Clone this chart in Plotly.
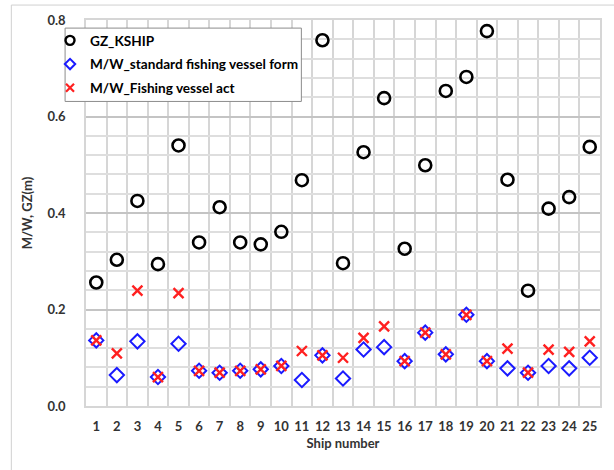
import plotly.graph_objects as go

# Ship numbers and measured values
ships = list(range(1, 26))
gz_kship = [0.256, 0.303, 0.425, 0.294, 0.540, 0.339, 0.412, 0.339, 0.335, 0.361,
            0.468, 0.758, 0.296, 0.526, 0.638, 0.326, 0.499, 0.653, 0.682, 0.777,
            0.469, 0.239, 0.409, 0.433, 0.537]
mw_standard = [0.136, 0.064, 0.134, 0.060, 0.129, 0.073, 0.069, 0.073, 0.076, 0.083,
               0.054, 0.105, 0.057, 0.117, 0.122, 0.093, 0.152, 0.107, 0.189, 0.093,
               0.078, 0.069, 0.083, 0.078, 0.100]
mw_act = [0.136, 0.109, 0.239, 0.060, 0.234, 0.073, 0.069, 0.073, 0.076, 0.083,
          0.114, 0.105, 0.100, 0.141, 0.165, 0.093, 0.152, 0.107, 0.189, 0.093,
          0.119, 0.069, 0.117, 0.112, 0.134]

y_ticks = [0.0, 0.2, 0.4, 0.6, 0.8]
y_tick_labels = ["0.0", "0.2", "0.4", "0.6", "0.8"]

FONT = "Lato"
TXT = "#333333"
BLUE = "#1a1aff"
RED = "#ff2020"

series = [
    ("GZ_KSHIP", gz_kship,
     dict(symbol="circle-open", size=12, color="black", line=dict(width=2.6, color="black")),
     dict(symbol="circle-open", size=9, color="black", line=dict(width=2.4, color="black"))),
    ("M/W_standard fishing vessel form", mw_standard,
     dict(symbol="diamond-open", size=11, color=BLUE, line=dict(width=2, color=BLUE)),
     dict(symbol="diamond-open", size=8, color=BLUE, line=dict(width=2, color=BLUE))),
    ("M/W_Fishing vessel act", mw_act,
     dict(symbol="x-thin-open", size=10, color=RED, line=dict(width=2.4, color=RED)),
     dict(symbol="x-thin-open", size=8, color=RED, line=dict(width=2.2, color=RED))),
]

fig = go.Figure()
# data markers
for name, vals, mk, _ in series:
    fig.add_trace(go.Scatter(x=ships, y=vals, mode="markers", name=name,
                             marker=mk, showlegend=False, legendgroup=name))
# legend entries with smaller symbols
for name, vals, _, mk_small in series:
    fig.add_trace(go.Scatter(x=[None], y=[None], mode="markers", name=name,
                             marker=mk_small, showlegend=True, legendgroup=name))

fig.update_layout(
    width=614, height=470,
    margin=dict(l=86, r=12, t=18, b=64),
    paper_bgcolor="white", plot_bgcolor="white",
    font=dict(family=FONT, color=TXT),
    showlegend=True,
    legend=dict(
        x=-0.070, y=0.987, xanchor="left", yanchor="top",
        bgcolor="rgba(0,0,0,0)", borderwidth=0,
        font=dict(family=FONT, size=13.6, color="black", weight="bold"),
        itemwidth=30, tracegroupgap=3,
    ),
    xaxis=dict(
        range=[0.5, 25.5], tickvals=ships, ticktext=[str(s) for s in ships],
        showgrid=False, zeroline=False,
        minor=dict(tick0=0.5, dtick=1, showgrid=True, gridcolor="#d6d6d6", gridwidth=1.5),
        showline=True, linecolor="#d6d6d6", linewidth=1.5, mirror=True,
        tickfont=dict(family=FONT, size=13, color=TXT, weight="bold"),
        ticklabelstandoff=8,
        title=dict(text="Ship number", font=dict(family=FONT, size=13, color=TXT, weight="bold"), standoff=6),
    ),
    yaxis=dict(
        range=[0, 0.8], tickvals=y_ticks, ticktext=y_tick_labels,
        showgrid=True, gridcolor="#c4c4c4", gridwidth=1.5, zeroline=False,
        minor=dict(tick0=0, dtick=0.04, showgrid=True, gridcolor="#dedede", gridwidth=1.5),
        showline=True, linecolor="#d6d6d6", linewidth=1.5, mirror=True,
        tickfont=dict(family=FONT, size=13, color=TXT, weight="bold"),
        ticklabelstandoff=16,
        title=dict(text="M/W, GZ(m)", font=dict(family=FONT, size=13, color=TXT, weight="bold"), standoff=12),
    ),
    shapes=[
        # outer chart frame
        dict(type="rect", xref="paper", yref="paper",
             x0=-0.1453, x1=1.06, y0=-0.2, y1=1.0387,
             line=dict(color="#d0d0d0", width=1), fillcolor="rgba(0,0,0,0)", layer="below"),
        # legend box
        dict(type="rect", xref="paper", yref="paper",
             x0=-0.0407, x1=0.419, y0=0.789, y1=0.979,
             line=dict(color="#8c8c8c", width=1), fillcolor="white", layer="above"),
    ],
)

fig.write_html("out.html")
